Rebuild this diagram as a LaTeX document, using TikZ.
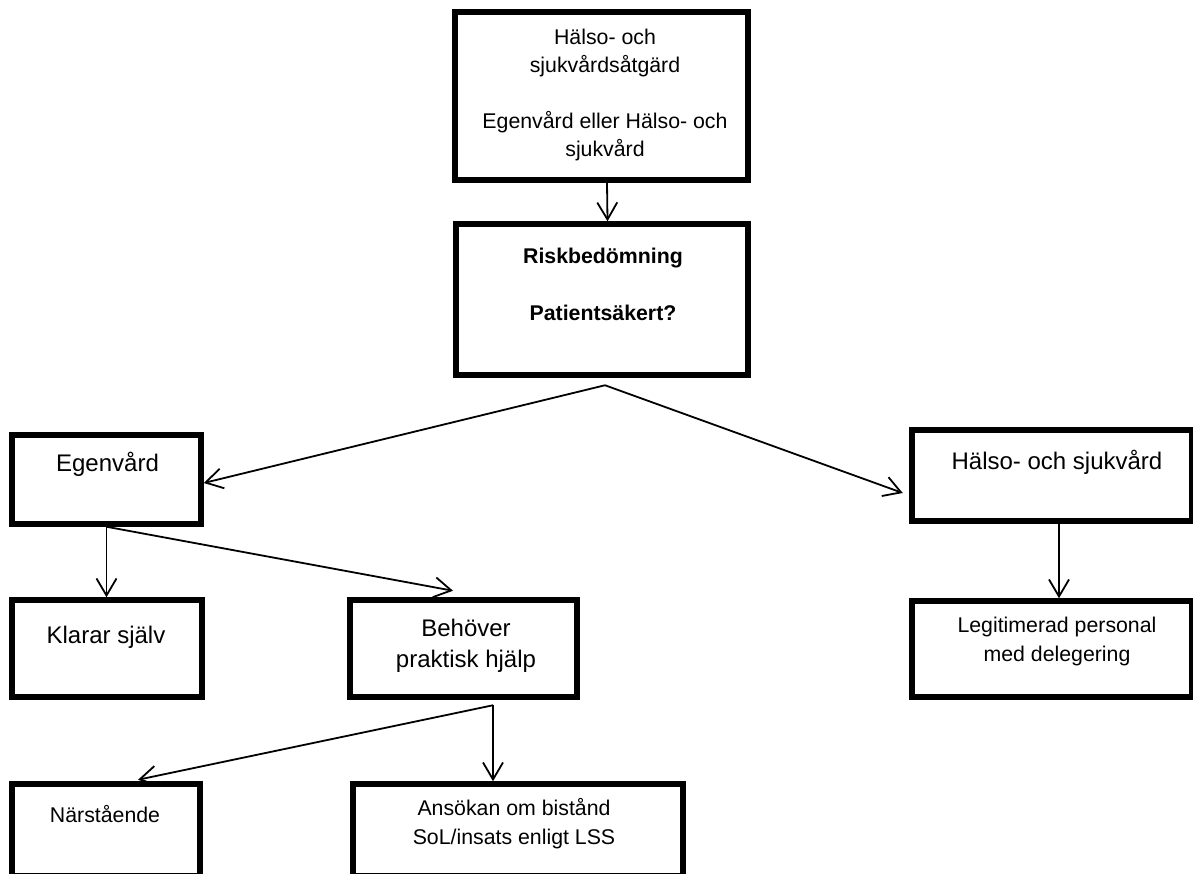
\documentclass[tikz,border=0pt]{standalone}
\usepackage{fontspec}
\setmainfont{Liberation Sans}
\usetikzlibrary{arrows.meta}
\newcommand\fst{\rule{0pt}{0.9em}}
\begin{document}
\begin{tikzpicture}[x=1pt,y=-1pt,
  box/.style={draw, line width=5.5pt, rectangle, inner sep=0pt},
  txt/.style={anchor=north, inner sep=0pt, align=center},
  small/.style={font=\fontsize{21.3}{28}\selectfont},
  large/.style={font=\fontsize{24}{31}\selectfont},
  conn/.style={line width=1.8pt, -{Straight Barb[length=17pt,width=20pt]}}]
\useasboundingbox (0,0) rectangle (1193,874);
\fill[white] (0,0) rectangle (1193,874);
\clip (0,0) rectangle (1193,874);

% boxes
\node[box, minimum width=293pt, minimum height=168pt] (top) at (601.5,96) {};
\node[box, minimum width=292pt, minimum height=151pt] (risk) at (602,299.5) {};
\node[box, minimum width=189pt, minimum height=89pt] (egen) at (106.5,479.5) {};
\node[box, minimum width=280pt, minimum height=91pt] (hsv) at (1052,475.5) {};
\node[box, minimum width=190pt, minimum height=97pt] (klarar) at (107,648.5) {};
\node[box, minimum width=227pt, minimum height=97pt] (beh) at (463.5,648.5) {};
\node[box, minimum width=280pt, minimum height=96pt] (legit) at (1052,649) {};
\node[box, minimum width=188pt, minimum height=92pt] (nar) at (106,830) {};
\node[box, minimum width=330pt, minimum height=92pt] (ans) at (518,830) {};

% texts
\node[txt, small] (toptxt) at (605,24.8) {\fst Hälso- och\\ sjukvårdsåtgärd\\[28pt] Egenvård eller Hälso- och\\ sjukvård};
\node[txt, small, font=\fontsize{21.3}{28}\selectfont\bfseries] (risktxt) at (603,243.8) {\fst Riskbedömning\\[29pt] Patientsäkert?};
\node[txt, large] (egentxt) at (107.5,449.4) {\fst Egenvård};
\node[txt, large] (hsvtxt) at (1057,447.4) {\fst Hälso- och sjukvård};
\node[txt, large] (klartxt) at (106,621.4) {\fst Klarar själv};
\node[txt, large] (behtxt) at (466,614.4) {\fst Behöver\\ praktisk hjälp};
\node[txt, font=\fontsize{21.3}{28.3}\selectfont] (legtxt) at (1057,613.5) {\fst Legitimerad personal\\ med delegering};
\node[txt, small] (nartxt) at (105,803.5) {\fst Närstående};
\node[txt, font=\fontsize{21.3}{29}\selectfont] (anstxt) at (514,795.8) {\fst Ansökan om bistånd\\ SoL/insats enligt LSS};

% connectors
\draw[conn] ([xshift=5.5pt]top.south) -- ([xshift=5.5pt]risk.north);
\coordinate (rs) at ([xshift=3pt,yshift=-7.5pt]risk.south);
\draw[conn] (rs) -- ([yshift=-3.5pt]egen.east);
\draw[conn] (rs) -- ([xshift=-6.5pt,yshift=-17.5pt]hsv.west);
\draw[conn] (egen.south) -- (egen.south |- klarar.north);
\draw[conn] (egen.south) -- ([xshift=-10.5pt,yshift=6.5pt]beh.north);
\coordinate (bs) at ([xshift=29.5pt,yshift=-5.5pt]beh.south);
\draw[conn] (bs) -- ([xshift=32pt,yshift=1.5pt]nar.north);
\draw[conn] (bs) -- (bs |- ans.north);
\draw[conn] ([xshift=7pt]hsv.south) -- ([xshift=7pt]legit.north);
\end{tikzpicture}
\end{document}
